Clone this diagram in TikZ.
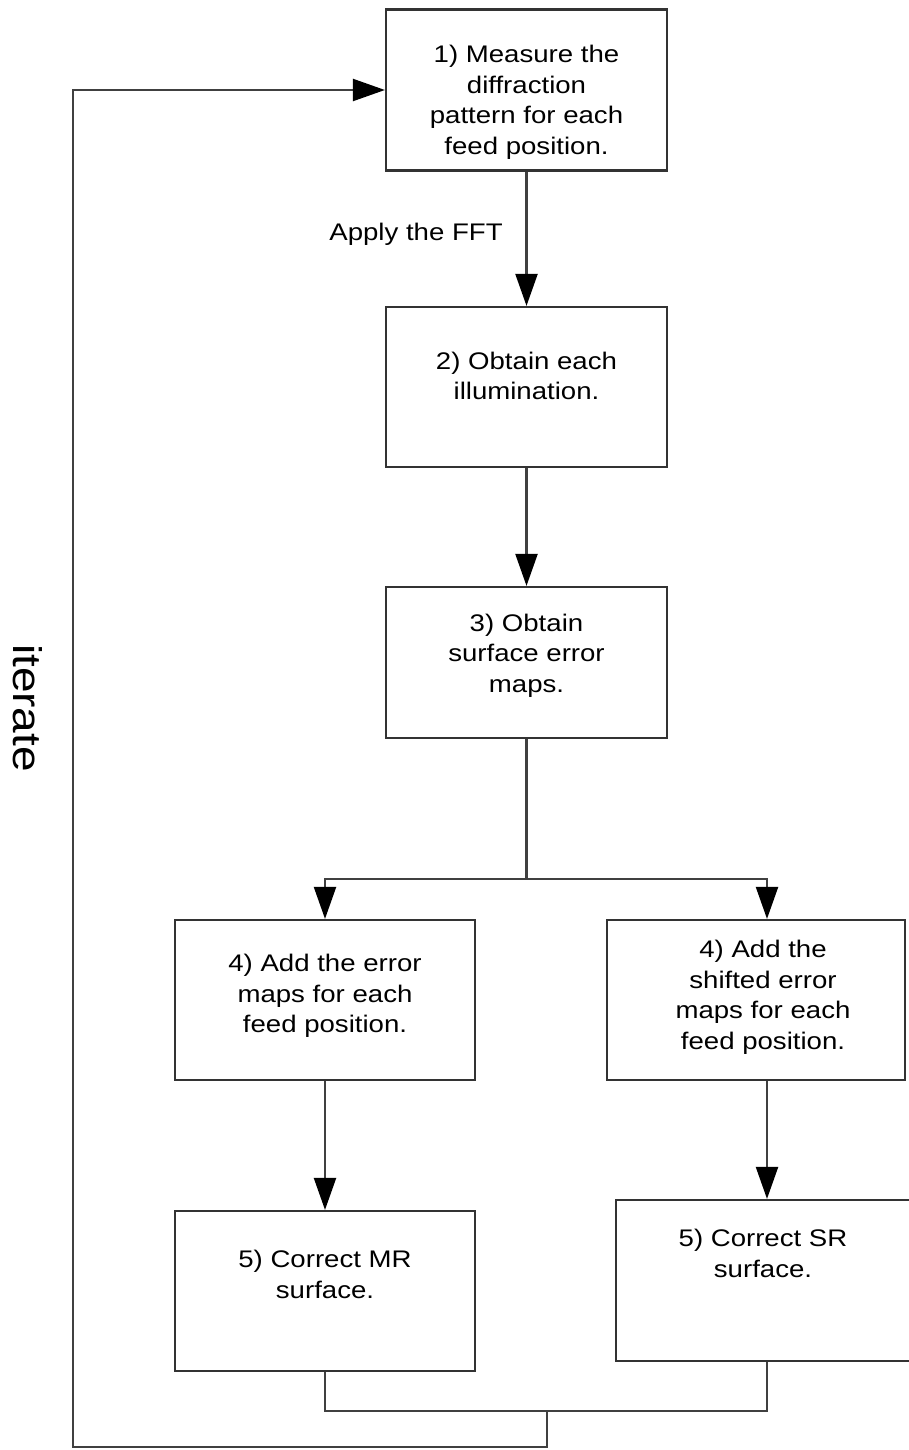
\documentclass[tikz,border=0pt]{standalone}
\usepackage{fontspec}
\setmainfont{Liberation Sans}[FakeStretch=1.15]
\usetikzlibrary{arrows.meta,positioning}

\begin{document}
\begin{tikzpicture}[x=1pt,y=-1pt]
	\tikzstyle{every node}=[font=\fontsize{24}{30.5}\selectfont]
	\tikzstyle{stepbox}=[draw=black!80, line width=2.2pt, rectangle, inner sep=0pt]
	\tikzstyle{boxtext}=[align=center, inner sep=0pt, anchor=north]
	\tikzstyle{wire}=[line width=2.2pt, draw=black!75]
	\tikzstyle{flow}=[wire, -{Triangle[length=32pt,width=22pt,color=black]}]
	\useasboundingbox (0,0) rectangle (908,1450);
	% boxes
	\node [stepbox, minimum width=281pt, minimum height=161pt] (measure) at (526.5,90) {};
	\node [stepbox, minimum width=281pt, minimum height=160pt] (obtain) at (526.5,387) {};
	\node [stepbox, minimum width=281pt, minimum height=151pt] (errmaps) at (526.5,662.5) {};
	\node [stepbox, minimum width=300pt, minimum height=160pt] (addmaps) at (325,1000) {};
	\node [stepbox, minimum width=298pt, minimum height=160pt] (shifted) at (756,1000) {};
	\node [stepbox, minimum width=300pt, minimum height=160pt] (correctmr) at (325,1291) {};
	\node [stepbox, minimum width=302pt, minimum height=161pt] (correctsr) at (767,1280.5) {};
	% box texts
	\node [boxtext, below=37pt of measure.north] (measuretxt) {1) Measure the\\diffraction\\pattern for each\\feed position.};
	\node [boxtext, below=46pt of obtain.north] (obtaintxt) {2) Obtain each\\illumination.};
	\node [boxtext, below=28pt of errmaps.north] (errmapstxt) {3) Obtain\\surface error\\maps.};
	\node [boxtext, below=35pt of addmaps.north] (addmapstxt) {4) Add the error\\maps for each\\feed position.};
	\node [boxtext, below=21pt of shifted.north, xshift=7pt] (shiftedtxt) {4) Add the\\shifted error\\maps for each\\feed position.};
	\node [boxtext, below=30pt of correctsr.north, xshift=-4pt] (correctsrtxt) {5) Correct SR\\surface.};
	\node [boxtext, below=40pt of correctmr.north] (correctmrtxt) {5) Correct MR\\surface.};
	% labels
	\node (fft) at (416,234) {Apply the FFT};
	\node [rotate=-90, font=\fontsize{40}{48}\selectfont] (iterate) at (28,708) {iterate};
	% connectors
	\coordinate (split) at (526.5,879);
	\coordinate (merge) at (547,1411);
	\coordinate (loop) at (73,1447);
	\draw [flow] (measure) -- (obtain);
	\draw [flow] (obtain) -- (errmaps);
	\draw [wire] (errmaps) -- (split);
	\draw [flow] (split) -| (addmaps);
	\draw [flow] (split) -| (shifted.north -| correctsr.north);
	\draw [flow] (addmaps) -- (correctmr);
	\draw [flow] (shifted.south -| correctsr.north) -- (correctsr);
	\draw [wire] (correctmr) |- (merge) -| (correctsr);
	\draw [flow] (merge) |- (loop) |- (measure);
\end{tikzpicture}
\end{document}
